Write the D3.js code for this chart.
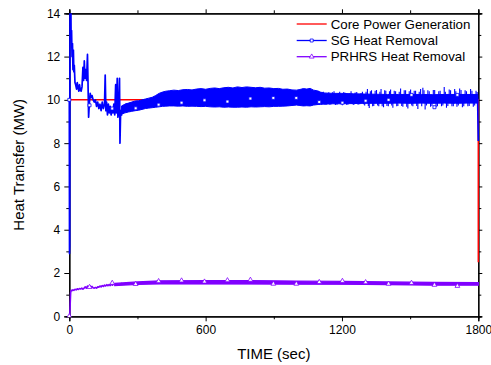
<!DOCTYPE html>
<html><head><meta charset="utf-8">
<script src="https://cdn.jsdelivr.net/npm/d3@7/dist/d3.min.js"></script>
<style>
html,body{margin:0;padding:0;background:#fff;}
svg{display:block;font-family:"Liberation Sans",Arial,sans-serif;}
</style></head>
<body><svg id="c" width="491" height="365"></svg>
<script>
// ---- data ----
const xMajorTicks = [0, 600, 1200, 1800];
const xMinorTicks = [300, 900, 1500];
const yMajorTicks = [0, 2, 4, 6, 8, 10, 12, 14];
const yMinorTicks = [1, 3, 5, 7, 9, 11, 13];
const seriesNames = ["Core Power Generation", "SG Heat Removal", "PRHRS Heat Removal"];
const seriesColors = ["#ff0000", "#0000ff", "#8000ff"];

const coreTime = [0, 1800, 1800];
const coreValue = [10, 10, 2.5];

// SG heat removal: early transient and trace through the oscillating band
const sgTime = [0,1,2,3,5,7,8,10,12,14,16,18,20,22,25,28,32,35,38,42,45,48,52,56,60,63,66,69,72,76,80,82,85,88,92,96,100,105,110,115,120,125,130,135,140,145,150,155,158,161,164,168,172,176,180,184,188,192,196,200,204,207,211,214,218,221,223,226,230,234,238,242,246,250,
  300,500,700,900,1100,1300,1500,1700,1797,1800];
const sgValue = [10.0,2.9,3.3,14.3,13.6,14.2,12.8,13.2,12.0,12.6,11.4,12.3,11.3,11.6,10.8,10.7,10.5,10.8,10.6,10.4,10.7,10.5,10.4,10.6,11.5,10.9,11.8,11.0,11.4,10.9,12.1,11.0,9.2,9.8,10.3,10.1,10.2,10.0,9.9,10.0,9.7,9.9,9.6,9.8,9.5,9.9,9.6,9.8,11.15,9.5,9.9,9.3,9.8,9.4,9.7,9.3,9.6,9.4,9.8,9.3,10.7,9.4,11.0,9.2,9.6,11.0,8.0,9.5,9.3,9.6,9.4,9.7,9.5,9.8,
  9.75,10.1,10.1,10.1,10.05,10.05,10.05,10.05,10.05,8.1];

// envelope of the fast oscillation band
const sgBandTime = [230,245,260,275,290,305,320,335,350,365,380,395,410,425,440,460,480,500,520,540,560,580,600,620,640,660,680,700,720,740,760,780,800,820,840,860,880,900,920,940,960,980,1000,1015,1030,1045,1060,1075,1090,1105,1120,1160,1200,1250,1300,1350,1400,1450,1500,1550,1600,1650,1700,1750,1798];
const sgBandHigh = [9.72,9.8,9.85,9.9,9.95,9.96,10.0,10.04,10.08,10.12,10.2,10.3,10.36,10.4,10.42,10.45,10.43,10.47,10.48,10.46,10.5,10.52,10.49,10.53,10.55,10.52,10.56,10.58,10.55,10.6,10.57,10.6,10.58,10.56,10.58,10.54,10.55,10.52,10.53,10.49,10.5,10.46,10.45,10.48,10.52,10.5,10.53,10.45,10.42,10.36,10.32,10.3,10.3,10.28,10.27,10.26,10.25,10.25,10.25,10.25,10.24,10.25,10.25,10.25,10.25];
const sgBandLow  = [9.35,9.4,9.44,9.47,9.5,9.52,9.56,9.6,9.62,9.64,9.66,9.68,9.7,9.71,9.72,9.72,9.71,9.72,9.7,9.71,9.7,9.69,9.7,9.68,9.67,9.68,9.66,9.67,9.66,9.66,9.67,9.66,9.68,9.67,9.68,9.69,9.68,9.7,9.7,9.71,9.72,9.74,9.76,9.74,9.72,9.73,9.72,9.76,9.78,9.8,9.8,9.82,9.82,9.83,9.84,9.84,9.84,9.85,9.84,9.85,9.84,9.85,9.84,9.85,9.85];

// spikes sticking out of the band after ~1090 s
const sgSpikeBase = 10.05;
const sgSpikeTime = [1095,1108,1118,1130,1142,1152,1165,1178,1190,1202,1214,1226,1240,1252,1265,1278,1290,1300,
  1312,1320,1330,1340,1352,1362,1372,1383,1393,1404,1414,1424,1436,1446,1458,1468,1480,1490,1502,1512,1524,1534,1546,1556,1566,1578,1590,1602,1614,1626,1638,1650,1660,1672,1684,1696,1706,1718,1730,1742,1754,1766,1778,1790];
const sgSpikeValue = [10.42,9.76,10.38,9.78,10.35,9.8,10.4,9.77,10.37,9.75,10.33,9.78,10.4,9.76,10.36,9.8,10.38,9.74,
  10.5,9.62,10.44,9.72,10.46,9.7,10.5,9.66,10.42,9.7,10.48,9.64,10.4,9.72,10.52,9.68,10.44,9.6,10.48,9.7,10.42,9.58,10.5,10.56,9.55,10.44,9.68,10.46,9.66,10.4,9.7,10.6,9.64,10.48,9.7,10.5,9.68,10.52,9.66,10.45,9.7,10.5,9.68,10.42];
const sgSmallSpikeTime = [1101,1113,1124,1136,1147,1158,1171,1184,1196,1208,1220,1233,1246,1258,1271,1284,1295,1306,1316,1325,
  1335,1346,1357,1367,1377,1388,1398,1409,1419,1430,1441,1452,1463,1474,1485,1496,1507,1518,1529,1540,
  1551,1561,1572,1584,1596,1608,1620,1632,1644,1655,1666,1678,1690,1701,1712,1724,1736,1748,1760,1772,1784,1795];
const sgSmallSpikeValue = [9.78,10.34,9.8,10.3,9.78,10.35,9.76,10.32,9.8,10.36,9.77,10.3,9.8,10.34,9.78,10.32,9.8,10.38,9.72,10.4,
  9.7,10.42,9.74,10.38,9.7,10.44,9.72,10.4,9.74,10.42,9.7,10.38,9.72,10.45,9.68,10.4,9.74,10.42,9.72,10.38,
  9.7,10.44,9.74,10.4,9.72,10.46,9.7,10.42,9.74,10.38,9.72,10.44,9.7,10.4,9.74,10.46,9.7,10.4,9.72,10.42,9.74,10.36];

const prhrsTime = [0,2,4,6,8,12,16,20,25,30,35,40,45,50,55,60,65,70,75,80,85,90,95,100,105,110,115,120,125,130,135,140,145,150,155,160,165,170,175,180,185,190,195,200,210,220,230,240,250,260,270,280,290,300,1800];
const prhrsValue = [0,0.05,0.6,1.1,1.2,1.18,1.22,1.2,1.25,1.22,1.27,1.24,1.28,1.26,1.3,1.25,1.3,1.36,1.3,1.4,1.34,1.42,1.35,1.38,1.32,1.3,1.33,1.3,1.36,1.34,1.4,1.36,1.42,1.38,1.44,1.4,1.46,1.41,1.47,1.42,1.48,1.44,1.5,1.46,1.5,1.47,1.52,1.48,1.53,1.49,1.54,1.5,1.55,1.53,1.5];
const prhrsBandTime = [200,300,400,600,800,1000,1200,1400,1600,1800];
const prhrsBandHigh = [1.52,1.59,1.64,1.65,1.65,1.63,1.61,1.59,1.57,1.56];
const prhrsBandLow  = [1.42,1.47,1.5,1.5,1.5,1.49,1.48,1.46,1.44,1.44];

const markerTime = [0,89,189,292,393,494,595,696,797,898,999,1100,1202,1304,1405,1506,1607,1708];
const sgMarker = [10.0,9.75,9.6,9.61,9.78,9.87,9.98,9.92,10.06,10.09,10.09,9.9,9.87,9.96,10.0,10.23,9.66,10.23];
const prhrsMarker = [0,1.35,1.54,1.49,1.62,1.65,1.6,1.66,1.68,1.5,1.5,1.58,1.63,1.57,1.5,1.54,1.45,1.4];

// ---- layout ----
const L = 69.3, R = 478.3, T = 13.3, B = 316.3;
const svg = d3.select("#c");
const x = d3.scaleLinear().domain([0, 1800]).range([L, R]);
const y = d3.scaleLinear().domain([0, 14]).range([B, T]);

// ---- axes ----
function styleAxis(g){ g.select(".domain").attr("stroke","#000").attr("stroke-width",1.2);
  g.selectAll(".tick line").attr("stroke","#000").attr("stroke-width",1);
  g.selectAll("text").attr("fill","#000").style("font-size","12px").style("font-family",'"Liberation Sans",Arial,sans-serif'); }

svg.append("g").attr("transform",`translate(0,${B})`)
  .call(d3.axisBottom(x).tickValues(xMinorTicks).tickSize(3).tickFormat("")).call(styleAxis);
svg.append("g").attr("transform",`translate(0,${B})`)
  .call(d3.axisBottom(x).tickValues(xMajorTicks).tickSize(5).tickPadding(4).tickFormat(d3.format("d"))).call(styleAxis);
svg.append("g").attr("transform",`translate(0,${T})`)
  .call(d3.axisTop(x).tickValues(xMinorTicks).tickSize(3).tickFormat("")).call(styleAxis);
svg.append("g").attr("transform",`translate(0,${T})`)
  .call(d3.axisTop(x).tickValues(xMajorTicks).tickSize(4).tickFormat("")).call(styleAxis);
svg.append("g").attr("transform",`translate(${L},0)`)
  .call(d3.axisLeft(y).tickValues(yMinorTicks).tickSize(3).tickFormat("")).call(styleAxis);
svg.append("g").attr("transform",`translate(${L},0)`)
  .call(d3.axisLeft(y).tickValues(yMajorTicks).tickSize(5).tickPadding(4).tickFormat(d3.format("d"))).call(styleAxis);
svg.append("g").attr("transform",`translate(${R},0)`)
  .call(d3.axisRight(y).tickValues(yMinorTicks).tickSize(3).tickFormat("")).call(styleAxis);
svg.append("g").attr("transform",`translate(${R},0)`)
  .call(d3.axisRight(y).tickValues(yMajorTicks).tickSize(4).tickFormat("")).call(styleAxis);

// ---- data marks (on top of the frame) ----
svg.append("clipPath").attr("id","clip").append("rect")
  .attr("x", L - 3).attr("y", T).attr("width", R - L + 6).attr("height", B - T + 1);
const plot = svg.append("g").attr("clip-path","url(#clip)");

const zip = (ts, vs) => ts.map((t,i) => [t, vs[i]]);
const line = d3.line().x(d => x(d[0])).y(d => y(d[1]));
const area = d3.area().x(d => x(d[0])).y0(d => y(d[2])).y1(d => y(d[1]));

plot.append("path").datum(zip(coreTime, coreValue)).attr("d", line)
  .attr("fill","none").attr("stroke", seriesColors[0]).attr("stroke-width", 1.5);

plot.append("path").datum(sgBandTime.map((t,i)=>[t, sgBandHigh[i], sgBandLow[i]])).attr("d", area)
  .attr("fill", seriesColors[1]).attr("stroke", seriesColors[1]).attr("stroke-width", 1);
plot.selectAll(".spk").data(zip(sgSpikeTime, sgSpikeValue).concat(zip(sgSmallSpikeTime, sgSmallSpikeValue))).join("line")
  .attr("x1", d => x(d[0])).attr("x2", d => x(d[0]))
  .attr("y1", y(sgSpikeBase)).attr("y2", d => y(d[1]))
  .attr("stroke", seriesColors[1]).attr("stroke-width", 1.1);
plot.append("path").datum(zip(sgTime, sgValue)).attr("d", line)
  .attr("fill","none").attr("stroke", seriesColors[1]).attr("stroke-width", 1.7).attr("stroke-linejoin","round");

plot.append("path").datum(prhrsBandTime.map((t,i)=>[t, prhrsBandHigh[i], prhrsBandLow[i]])).attr("d", area)
  .attr("fill", seriesColors[2]).attr("stroke", seriesColors[2]).attr("stroke-width", 1.2);
plot.append("path").datum(zip(prhrsTime, prhrsValue)).attr("d", line)
  .attr("fill","none").attr("stroke", seriesColors[2]).attr("stroke-width", 1.6).attr("stroke-linejoin","round");

const sq = d3.symbol().type(d3.symbolSquare).size(9);
const tri = d3.symbol().type(d3.symbolTriangle).size(10);
plot.selectAll(".sgm").data(zip(markerTime, sgMarker)).join("path")
  .attr("d", sq).attr("transform", d => `translate(${x(d[0])},${y(d[1])})`)
  .attr("fill","#fff").attr("stroke", seriesColors[1]).attr("stroke-width", 0.8);
plot.selectAll(".prm").data(zip(markerTime, prhrsMarker)).join("path")
  .attr("d", tri).attr("transform", d => `translate(${x(d[0])},${y(d[1])})`)
  .attr("fill","#fff").attr("stroke", seriesColors[2]).attr("stroke-width", 0.8);

// axis titles
svg.append("text").attr("x", (L+R)/2).attr("y", 359).attr("text-anchor","middle")
  .style("font-size","15px").attr("fill","#000").text("TIME (sec)");
svg.append("text").attr("transform",`translate(24,${(T+B)/2}) rotate(-90)`).attr("text-anchor","middle")
  .style("font-size","15px").attr("fill","#000").text("Heat Transfer (MW)");

// ---- legend ----
const legY = [24, 40.5, 56.7];
const lg = svg.append("g");
seriesNames.forEach((name, i) => {
  lg.append("line").attr("x1", 296.7).attr("x2", 326.7).attr("y1", legY[i]).attr("y2", legY[i])
    .attr("stroke", seriesColors[i]).attr("stroke-width", 1.3);
  if (i === 1) lg.append("path").attr("d", sq).attr("transform",`translate(311.7,${legY[i]})`)
    .attr("fill","#fff").attr("stroke", seriesColors[i]).attr("stroke-width",0.8);
  if (i === 2) lg.append("path").attr("d", tri).attr("transform",`translate(311.7,${legY[i]})`)
    .attr("fill","#fff").attr("stroke", seriesColors[i]).attr("stroke-width",0.8);
  lg.append("text").attr("x", 330.7).attr("y", legY[i]).attr("dy","0.36em")
    .style("font-size","13.3px").attr("fill","#000").text(name);
});
</script></body></html>
